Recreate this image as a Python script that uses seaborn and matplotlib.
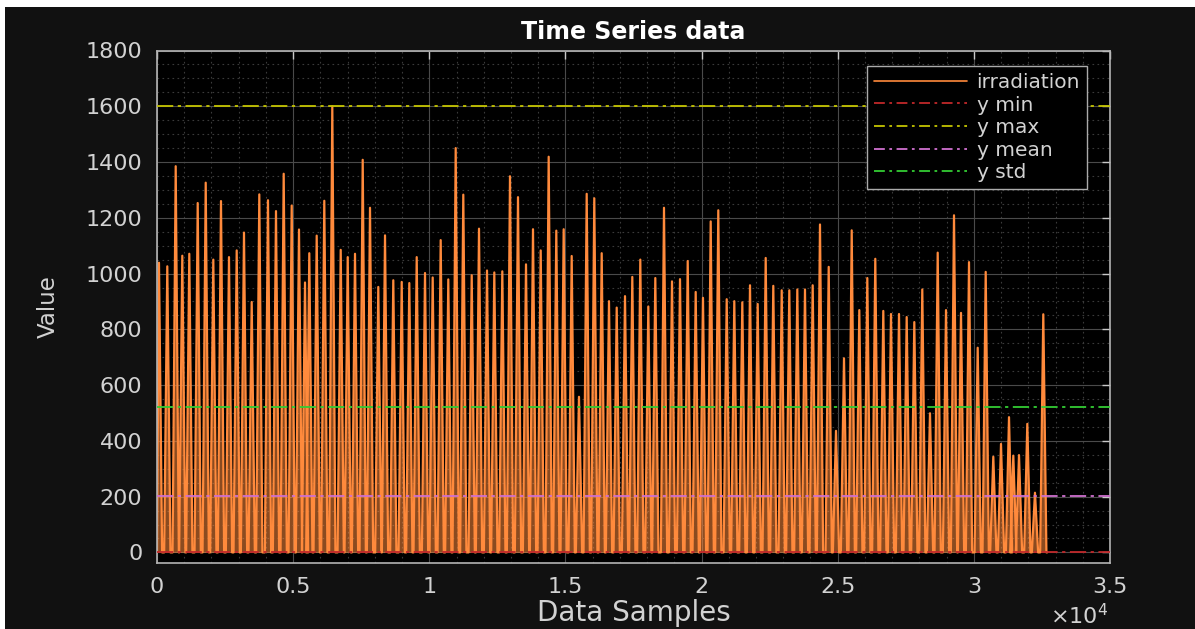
import numpy as np
import pandas as pd
import matplotlib
matplotlib.use("Agg")
import matplotlib.pyplot as plt
from matplotlib.patches import Rectangle
from matplotlib.lines import Line2D
from matplotlib.ticker import MultipleLocator
import seaborn as sns

# ---------------- data ----------------
# sample index of each daily peak
peak_sample = [73, 378, 687, 929, 1186, 1495, 1789, 2068, 2350, 2644, 2927, 3195,
               3478, 3757, 4076, 4370, 4653, 4947, 5215, 5436, 5593, 5865, 6144,
               6438, 6747, 7004, 7272, 7555, 7823, 8127, 8374, 8678, 8987, 9266,
               9538, 9843, 10125, 10419, 10698, 10970, 11249, 11558, 11826, 12120,
               12388, 12682, 12964, 13258, 13552, 13809, 14092, 14385, 14665,
               14936, 15230, 15498, 15781, 16060, 16332, 16600, 16883, 17188,
               17456, 17750, 18044, 18301, 18620, 18914, 19208, 19491, 19784,
               20052, 20335, 20614, 20923, 21202, 21496, 21779, 22061, 22355,
               22634, 22943, 23222, 23516, 23798, 24081, 24349, 24669, 24937,
               25231, 25514, 25793, 26087, 26380, 26674, 26957, 27251, 27533,
               27813, 28106, 28389, 28672, 28977, 29271, 29528, 29822, 30141,
               30435, 30714, 30997, 31291, 31449, 31658, 31963, 32245, 32550]
# irradiation value of each daily peak
peak_value = [1039, 1026, 1385, 1064, 1071, 1253, 1326, 1050, 1260, 1059, 1083, 1147,
              898, 1284, 1263, 1224, 1358, 1244, 1158, 968, 1073, 1136, 1261,
              1600, 1085, 1059, 1071, 1408, 1236, 952, 1137, 976, 970, 966,
              1059, 1002, 986, 1120, 979, 1450, 1283, 994, 1161, 1011,
              1004, 1008, 1349, 1274, 1033, 1159, 1083, 1419, 1154,
              1159, 1063, 558, 1286, 1270, 1073, 901, 878, 919,
              988, 1050, 882, 984, 1236, 972, 980, 1045, 934,
              913, 1187, 1227, 908, 901, 897, 958, 891, 1056,
              956, 940, 940, 943, 943, 958, 1176, 1024, 436,
              696, 1155, 869, 984, 1053, 866, 855, 855, 844,
              826, 943, 499, 1075, 869, 1209, 859, 1041, 734,
              1006, 343, 389, 485, 347, 349, 461, 214, 854]
series_end = 32690

stat_labels = ["y min", "y max", "y mean", "y std"]
stat_values = [0, 1600, 203, 522]

xtick_values = [0, 5000, 10000, 15000, 20000, 25000, 30000, 35000]
xtick_labels = ["0", "0.5", "1", "1.5", "2", "2.5", "3", "3.5"]
ytick_values = [0, 200, 400, 600, 800, 1000, 1200, 1400, 1600, 1800]

# ---------------- style ----------------
sns.set_style("dark")
plt.rcParams["font.family"] = ["DejaVu Sans"]

ORANGE = "#ff8a3c"
stat_colors = ["#c0282a", "#c4c400", "#d070d0", "#33cc33"]
TXT = "#d2d2d2"

fig = plt.figure(figsize=(11.95, 6.29), dpi=100)
fig.patch.set_facecolor("white")
fig.add_artist(Rectangle((5 / 1195, -0.1), 1.2, 0.1 + (629 - 7) / 629,
                         transform=fig.transFigure, facecolor="#111111",
                         edgecolor="none", zorder=-5))

ax = fig.add_axes([157 / 1195, (629 - 563) / 629, (1110 - 157) / 1195, (563 - 50.5) / 629])
ax.set_facecolor("black")

# build the day-by-day series from the peaks (0 at night)
hw = 115
xs, ys = [0], [0]
for p, v in zip(peak_sample, peak_value):
    xs += [max(p - hw, 0), p, p + hw]
    ys += [0, v, 0]
xs.append(series_end)
ys.append(0)
df = pd.DataFrame({"sample": xs, "value": ys})

ax.fill_between(df["sample"], df["value"], 0, color=ORANGE, alpha=0.55,
                linewidth=0, zorder=1.5)
sns.lineplot(data=df, x="sample", y="value", ax=ax, color=ORANGE, linewidth=1.6,
             estimator=None, sort=False, zorder=2, label="irradiation")

handles = [Line2D([], [], color=ORANGE, lw=1.2)]
for lab, val, col in zip(stat_labels, stat_values, stat_colors):
    ax.axhline(val, color=col, lw=1.3, dashes=(9, 2.5, 1.8, 2.5), zorder=3)
    handles.append(Line2D([], [], color=col, lw=1.3, dashes=(6, 2.5, 1.5, 2.5)))

ax.set_xlim(0, 35000)
ax.set_ylim(-38, 1800)
ax.set_xticks(xtick_values)
ax.set_xticklabels(xtick_labels)
ax.set_yticks(ytick_values)
ax.xaxis.set_minor_locator(MultipleLocator(1000))
ax.yaxis.set_minor_locator(MultipleLocator(50))

ax.grid(which="major", color="#4a4a4a", lw=0.8, ls="-")
ax.grid(which="minor", color="#3a3a3a", lw=0.8, ls=(0, (1.5, 3)))
ax.set_axisbelow(True)

ax.tick_params(which="major", direction="in", length=6, width=1, color="#c8c8c8",
               top=True, right=True, labelsize=16, labelcolor=TXT)
ax.tick_params(axis="x", which="major", pad=10)
ax.tick_params(axis="y", which="major", pad=10.5)
ax.tick_params(which="minor", length=0)
for s in ax.spines.values():
    s.set_visible(True)
    s.set_color("#b4b4b4")
    s.set_linewidth(1.2)

ax.set_title("Time Series data", color="white", fontsize=17, fontweight="bold", pad=8)
ax.set_xlabel("Data Samples", color=TXT, fontsize=20)
ax.set_ylabel("Value", color=TXT, fontsize=16.5)
ax.xaxis.set_label_coords(0.5, -0.07)
ax.yaxis.set_label_coords(-0.102, 0.5)

ax.annotate("\u00d710$^{4}$", xy=(1, 0), xycoords="axes fraction",
            xytext=(-1.5, -29), textcoords="offset points",
            ha="right", va="top", color=TXT, fontsize=16)

leg = ax.legend(handles, ["irradiation"] + stat_labels, loc="upper right",
                bbox_to_anchor=(0.976, 0.970), borderaxespad=0, fontsize=14.5,
                handlelength=4.6, handletextpad=0.5, labelspacing=0.18,
                borderpad=0.35, frameon=True, fancybox=False, framealpha=1)
leg.get_frame().set_facecolor("black")
leg.get_frame().set_edgecolor("#aaaaaa")
leg.get_frame().set_linewidth(1.0)
for t in leg.get_texts():
    t.set_color(TXT)

fig.savefig("out.png", dpi=100, facecolor=fig.get_facecolor())
